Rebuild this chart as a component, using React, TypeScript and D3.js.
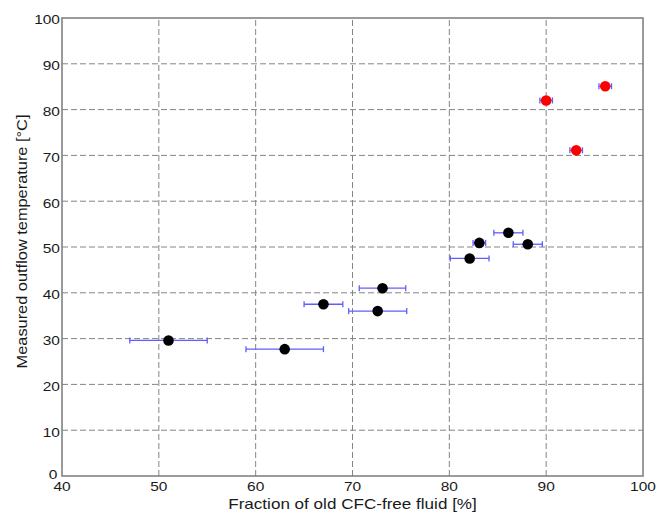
import React from 'react'
import * as d3 from 'd3'

// black points: fraction [%], temperature [°C], half-width of the x error bar
const blackX = [51, 63, 67, 72.6, 73.1, 82.1, 83.1, 86.1, 88.1]
const blackY = [29.6, 27.7, 37.5, 36.0, 41.0, 47.5, 50.9, 53.1, 50.6]
const blackErr = [4, 4, 2, 3, 2.4, 2, 0.65, 1.5, 1.5]

// red points
const redX = [90, 93.1, 96.1]
const redY = [82, 71.1, 85.1]
const redErr = [0.65, 0.65, 0.65]

const xTicks = [40, 50, 60, 70, 80, 90, 100]
const yTicks = [0, 10, 20, 30, 40, 50, 60, 70, 80, 90, 100]

const W = 670
const H = 515
const m = {left: 62, right: 27, top: 18, bottom: 39}
const font = 'Liberation Sans, Arial, sans-serif'

// text drawn a bit wider than the font, like the reference
function Label({x, y, size, sx, anchor, rotate = 0, children}) {
  return (
    <text transform={`translate(${x},${y}) rotate(${rotate}) scale(${sx},1)`}
      textAnchor={anchor} fontFamily={font} fontSize={size} fill="#1a1a1a">
      {children}
    </text>
  )
}

export default function App() {
  const x = d3.scaleLinear().domain([40, 100]).range([m.left, W - m.right])
  const y = d3.scaleLinear().domain([0, 100]).range([H - m.bottom, m.top])

  const points = [
    ...blackX.map((v, i) => ({x: v, y: blackY[i], e: blackErr[i], c: '#000'})),
    ...redX.map((v, i) => ({x: v, y: redY[i], e: redErr[i], c: '#ff0000'})),
  ]

  return (
    <svg width={W} height={H} style={{position: 'absolute', left: 0, top: 0}}>
      <rect width={W} height={H} fill="#fff" />
      {/* grid */}
      {xTicks.slice(1, -1).map(t => (
        <line key={'gx' + t} x1={x(t)} x2={x(t)} y1={y(0)} y2={y(100)}
          stroke="#858585" strokeDasharray="6,3" strokeWidth={1} />
      ))}
      {yTicks.slice(1, -1).map(t => (
        <line key={'gy' + t} x1={x(40)} x2={x(100)} y1={y(t)} y2={y(t)}
          stroke="#858585" strokeDasharray="6,3" strokeWidth={1} />
      ))}
      {/* frame */}
      <rect x={x(40)} y={y(100)} width={x(100) - x(40)} height={y(0) - y(100)}
        fill="none" stroke="#7a7a7a" strokeWidth={1.5} />
      {/* tick labels */}
      {yTicks.map(t => (
        <Label key={'ty' + t} x={t === 0 ? 57.5 : 60} y={t === 0 ? y(0) + 2.5 : y(t) + 6.3}
          size={12.5} sx={1.24} anchor="end">{t}</Label>
      ))}
      {xTicks.map(t => (
        <Label key={'tx' + t} x={x(t)} y={491} size={12.5} sx={1.24} anchor="middle">{t}</Label>
      ))}
      {/* axis titles */}
      <Label x={(x(40) + x(100)) / 2} y={509} size={14} sx={1.22} anchor="middle">
        Fraction of old CFC-free fluid [%]
      </Label>
      <Label x={27} y={241.5} size={14} sx={1.17} anchor="middle" rotate={-90}>
        Measured outflow temperature [°C]
      </Label>
      {/* error bars */}
      {points.map((p, i) => (
        <g key={'e' + i} stroke="#5e5eff" strokeWidth={1.3}>
          <line x1={x(p.x - p.e)} x2={x(p.x + p.e)} y1={y(p.y)} y2={y(p.y)} />
          <line x1={x(p.x - p.e)} x2={x(p.x - p.e)} y1={y(p.y) - 3} y2={y(p.y) + 3} />
          <line x1={x(p.x + p.e)} x2={x(p.x + p.e)} y1={y(p.y) - 3} y2={y(p.y) + 3} />
        </g>
      ))}
      {/* markers */}
      {points.map((p, i) => (
        <circle key={'p' + i} cx={x(p.x)} cy={y(p.y)} r={5.3} fill={p.c} />
      ))}
    </svg>
  )
}
